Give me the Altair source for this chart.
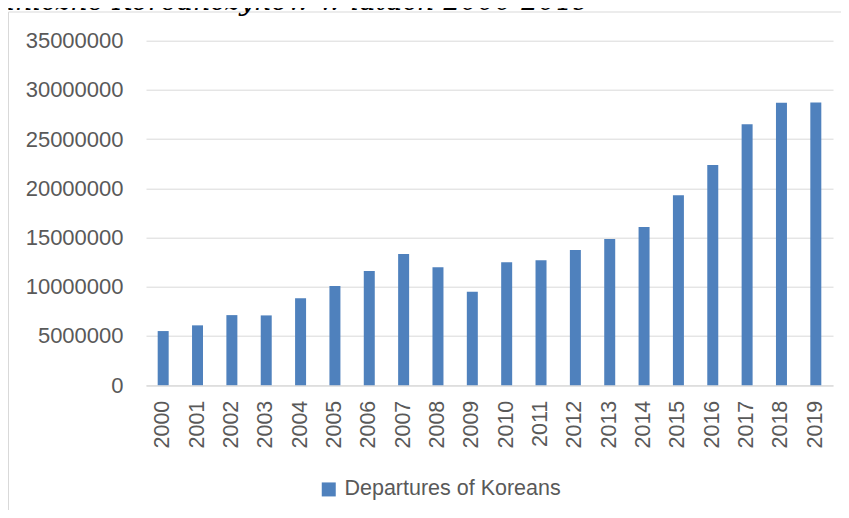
import altair as alt
import pandas as pd

years = [str(y) for y in range(2000, 2020)]
departures = [5500000, 6080000, 7120000, 7090000, 8830000, 10080000, 11610000,
              13320000, 11990000, 9490000, 12490000, 12690000, 13740000, 14850000,
              16080000, 19310000, 22380000, 26500000, 28700000, 28710000]
series_name = "Departures of Koreans"
y_ticks = [0, 5000000, 10000000, 15000000, 20000000, 25000000, 30000000, 35000000]
title_text = "raniczne Koreańczyków w latach 2000-2019"

df = pd.DataFrame({"year": years, "value": departures, "series": [series_name] * len(years)})

TEXT = "#595959"
GRID = "#D9D9D9"
FONT = "Liberation Sans"

bars = alt.Chart(df).mark_bar().encode(
    x=alt.X("year:N", sort=years,
            scale=alt.Scale(paddingInner=0.68, paddingOuter=0.34),
            axis=alt.Axis(title=None, labelAngle=270, labelPadding=15, ticks=False, tickSize=0,
                          domainColor=GRID, domainWidth=1, grid=False,
                          labelFont=FONT, labelFontSize=21.5, labelColor=TEXT)),
    y=alt.Y("value:Q", scale=alt.Scale(domain=[0, 35000000], nice=False),
            axis=alt.Axis(title=None, values=y_ticks, format="d", domain=False, ticks=False, tickSize=0,
                          labelPadding=23, grid=True, gridColor=GRID, gridWidth=1,
                          labelFont=FONT, labelFontSize=22, labelColor=TEXT)),
    color=alt.Color("series:N", scale=alt.Scale(range=["#4F81BD"]),
                    legend=alt.Legend(title=None, orient="none", legendX=172, legendY=438,
                                      direction="horizontal", symbolType="square", symbolSize=196,
                                      symbolStrokeWidth=0, labelFont=FONT, labelFontSize=21.5,
                                      labelColor=TEXT, labelOffset=5, labelLimit=600, padding=0)),
)

border = alt.Chart(pd.DataFrame({"b": [1]})).mark_rect(
    fillOpacity=0, stroke=GRID, strokeWidth=1
).encode(x=alt.value(-137.5), x2=alt.value(900), y=alt.value(-28.7), y2=alt.value(700))

title = alt.Chart(pd.DataFrame({"t": [title_text]})).mark_text(
    align="right", baseline="alphabetic", font="DejaVu Serif", fontStyle="italic",
    fontSize=27, color="#000000"
).encode(x=alt.value(444), y=alt.value(-30.2), text="t:N")

chart = alt.layer(border, bars, title).properties(
    width=687, height=344.5,
    padding={"left": 138, "top": 32.7, "right": 8, "bottom": 125},
    autosize=alt.AutoSizeParams(type="none"),
    background="white",
).configure_view(stroke=None)

chart.save("out.html", embed_options={"renderer": "svg", "actions": False})
